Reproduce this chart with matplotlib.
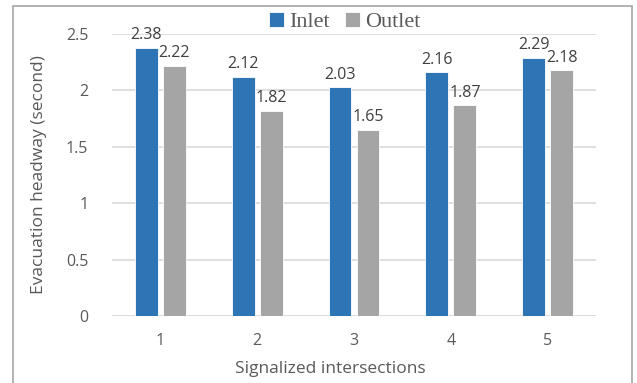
import matplotlib
matplotlib.use("Agg")
import matplotlib.pyplot as plt
import numpy as np
from matplotlib.patches import Rectangle

# data
intersections = ["1", "2", "3", "4", "5"]
inlet = [2.38, 2.12, 2.03, 2.16, 2.29]
outlet = [2.22, 1.82, 1.65, 1.87, 2.18]

BLUE = "#2E75B6"
GRAY = "#A5A5A5"
TXT = "#595959"

plt.rcParams["font.family"] = ["Open Sans", "DejaVu Sans"]

W, H = 637, 383
fig = plt.figure(figsize=(W / 100, H / 100), dpi=100)
ax = fig.add_axes([112 / W, 1 - 316 / H, (596 - 112) / W, (316 - 34) / H])

x = np.arange(len(intersections))
bw = 0.235
off = 0.145
b1 = ax.bar(x - off, inlet, bw, color=BLUE, edgecolor="white", linewidth=0.6,
            label="Inlet", zorder=3)
b2 = ax.bar(x + off, outlet, bw, color=GRAY, edgecolor="white", linewidth=0.6,
            label="Outlet", zorder=3)

for bars, vals in [(b1, inlet), (b2, outlet)]:
    for r, v in zip(bars, vals):
        ax.text(r.get_x() + r.get_width() / 2, v + 0.04, f"{v:.2f}",
                ha="center", va="bottom", fontsize=11.5, color="#404040")

ax.set_xlim(-0.5, 4.5)
ax.set_ylim(0, 2.5)
ax.set_yticks([0, 0.5, 1, 1.5, 2, 2.5])
ax.set_yticklabels(["0", "0.5", "1", "1.5", "2", "2.5"])
ax.set_xticks(x)
ax.set_xticklabels(intersections)
ax.tick_params(length=0, labelsize=11.5, colors=TXT, pad=12)
ax.tick_params(axis="y", pad=17)
ax.yaxis.grid(True, color="#D9D9D9", linewidth=1.2, zorder=0)
for s in ["top", "right", "left", "bottom"]:
    ax.spines[s].set_visible(False)
ax.axhline(0, color="#D9D9D9", linewidth=1.2, zorder=2)

ax.set_xlabel("Signalized intersections", fontsize=12.5, color=TXT, labelpad=9)
ax.xaxis.label.set_x((330 - 112) / 484)
ax.set_ylabel("Evacuation headway (second)", fontsize=12.5, color=TXT, labelpad=14)

leg = fig.legend(loc="center", bbox_to_anchor=(345 / W, 1 - 22 / H), ncol=2,
                 frameon=False, handlelength=0.65, handleheight=0.65,
                 handletextpad=0.25, columnspacing=0.7,
                 prop={"family": "Liberation Serif", "size": 16})
for t in leg.get_texts():
    t.set_color(TXT)

fig.patches.append(Rectangle((13 / W, -0.02), (632 - 13) / W, 1.02 - 6 / H,
                             transform=fig.transFigure, fill=False,
                             edgecolor="#A6A6A6", linewidth=1.2))

fig.savefig("out.png", dpi=100)
